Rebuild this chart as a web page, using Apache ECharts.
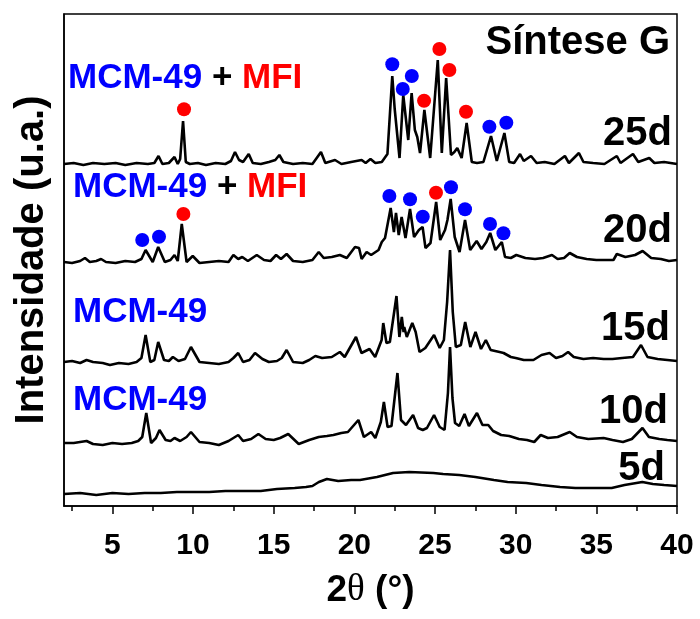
<!DOCTYPE html>
<html>
<head>
<meta charset="utf-8">
<script src="https://cdn.jsdelivr.net/npm/echarts@6/dist/echarts.min.js"></script>
<style>
  html, body { margin: 0; padding: 0; background: #fff; }
  #chart { width: 700px; height: 619px; }
</style>
</head>
<body>
<div id="chart"></div>
<script>
// 2θ ticks
var majorTicks = [5, 10, 15, 20, 25, 30, 35, 40];
var minorTicks = [2.5, 7.5, 12.5, 17.5, 22.5, 27.5, 32.5, 37.5];

// curvas de DRX: [2θ, intensidade relativa], e deslocamento vertical de cada uma
var names = ['25d', '20d', '15d', '10d', '5d'];
var offsets = [342, 244, 144, 63, 12];

var d25 = [[2.0,0],[2.6,1],[3.2,-1],[3.8,1],[4.5,0],[5.2,1],[5.8,-1],[6.5,1],[7.2,0],[7.6,1],[7.86,8],[8.1,0],[8.5,1],[8.85,7],[9.05,0],[9.2,5],[9.38,43],[9.55,2],[9.8,0],[10.3,1],[10.8,-1],[11.4,1],[12.0,0],[12.35,3],[12.6,12],[12.85,4],[13.1,2],[13.45,10],[13.7,1],[14.2,0],[14.7,2],[15.1,4],[15.35,9],[15.6,2],[16.2,0],[16.8,1],[17.4,0],[17.93,12],[18.2,1],[18.8,4],[19.2,0],[19.8,2],[20.45,4],[20.7,1],[21.0,5],[21.3,1],[21.7,2],[22.05,10],[22.35,88],[22.5,55],[22.6,55],[22.8,6],[23.03,69],[23.34,24],[23.55,71],[23.75,34],[23.9,27],[24.07,11],[24.34,54],[24.7,6],[25.17,104],[25.42,11],[25.69,86],[25.99,9],[26.2,12],[26.38,16],[26.65,6],[26.96,41],[27.28,2],[27.6,1],[28.0,2],[28.47,28],[28.83,3],[29.3,31],[29.6,2],[29.9,1],[30.27,10],[30.5,3],[30.95,8],[31.3,1],[31.8,2],[32.4,0],[33.05,8],[33.3,1],[33.92,11],[34.2,2],[34.8,1],[35.5,0],[36.27,8],[36.5,1],[37.27,10],[37.6,2],[38.28,6],[38.6,1],[39.2,2],[40,0]];

var d20 = [[2.0,0],[2.5,-1],[3.0,1],[3.3,4],[3.6,0],[4.0,1],[4.3,3],[4.6,0],[5.2,-1],[5.8,1],[6.4,0],[6.8,3],[7.06,12],[7.5,0],[7.84,15],[8.25,0],[8.6,2],[8.85,7],[9.05,1],[9.3,38],[9.6,0],[9.98,6],[10.4,-1],[11.0,0],[11.6,1],[12.2,0],[12.5,7],[12.8,3],[13.05,5],[13.4,1],[13.95,7],[14.4,2],[14.8,1],[15.15,7],[15.45,3],[15.8,8],[16.2,1],[16.8,0],[17.4,2],[17.79,10],[18.1,4],[18.6,5],[19.1,7],[19.53,4],[20.04,15],[20.29,14],[20.45,3],[20.76,10],[21.04,7],[21.5,12],[21.7,20],[21.9,24],[22.25,54],[22.45,30],[22.58,49],[22.75,27],[22.93,45],[23.17,24],[23.45,53],[23.7,25],[24.0,32],[24.23,35],[24.41,14],[24.72,19],[25.07,60],[25.32,22],[25.62,32],[25.77,42],[25.97,63],[26.22,25],[26.52,10],[26.86,42],[27.18,12],[27.58,21],[27.88,13],[28.18,20],[28.42,29],[28.74,12],[29.14,20],[29.34,5],[29.7,4],[30.04,7],[30.6,4],[31.2,3],[31.7,4],[32.25,7],[32.6,3],[33.0,4],[33.35,9],[33.8,5],[34.4,3],[35.0,2],[35.5,2],[36.06,2],[36.27,8],[36.8,5],[37.4,7],[37.87,11],[38.4,4],[39.0,3],[39.5,1],[40,2]];

var d15 = [[2.0,0],[2.5,1],[3.0,-1],[3.4,2],[3.8,0],[4.4,-1],[4.85,-3],[5.4,-1],[6.0,-2],[6.5,0],[6.8,4],[7.06,27],[7.35,0],[7.6,2],[7.84,20],[8.2,2],[8.5,1],[8.75,5],[9.1,1],[9.5,3],[9.87,15],[10.4,0],[11.0,-1],[11.6,-2],[12.2,0],[12.5,4],[12.8,9],[13.1,0],[13.5,2],[13.84,9],[14.3,3],[14.7,0],[15.2,1],[15.5,4],[15.8,12],[16.2,0],[16.8,-1],[17.2,2],[17.58,6],[18.0,4],[18.6,5],[19.1,10],[19.4,5],[20.1,25],[20.44,9],[20.94,13],[21.29,5],[21.69,22],[21.79,39],[21.99,19],[22.2,20],[22.61,66],[22.79,25],[22.94,45],[23.05,30],[23.09,35],[23.25,25],[23.59,39],[23.8,30],[24.04,10],[24.4,14],[24.94,27],[25.29,14],[25.55,22],[25.75,60],[25.93,112],[26.1,50],[26.29,15],[26.6,17],[26.87,40],[27.19,15],[27.51,30],[27.85,13],[28.15,22],[28.45,12],[29.0,10],[29.25,9],[29.7,5],[30.0,4],[30.5,2],[31.1,2],[31.6,7],[32.1,9],[32.5,4],[32.9,6],[33.25,10],[33.6,5],[34.2,3],[34.8,4],[35.45,3],[36.0,3],[36.6,4],[37.27,5],[37.77,17],[38.17,5],[38.8,3],[39.4,2],[40,1]];

var d10 = [[2.0,0],[2.6,0],[3.0,1],[3.4,2],[3.8,-1],[4.4,-2],[5.0,0],[5.6,-1],[6.2,0],[6.6,2],[6.85,6],[7.1,30],[7.4,0],[7.7,5],[7.92,13],[8.3,3],[8.6,2],[8.85,5],[9.2,2],[9.6,6],[9.87,11],[10.4,1],[11.0,0],[11.6,-2],[12.2,2],[12.5,5],[12.8,8],[13.1,2],[13.6,4],[14.05,9],[14.5,4],[15.0,3],[15.4,5],[15.9,9],[16.55,-1],[17.2,3],[17.79,6],[18.3,7],[18.7,8],[19.19,10],[19.6,11],[20.25,23],[20.59,6],[21.04,11],[21.3,5],[21.64,21],[21.83,41],[22.06,16],[22.3,17],[22.67,70],[22.89,23],[23.2,18],[23.64,28],[23.95,15],[24.24,13],[24.5,15],[24.94,28],[25.29,16],[25.59,13],[25.8,50],[25.93,96],[26.08,45],[26.24,20],[26.5,17],[26.83,29],[27.1,17],[27.6,30],[27.94,18],[28.3,18],[28.6,12],[29.1,8],[29.6,7],[30.2,4],[30.7,3],[31.15,1],[31.55,8],[32.0,5],[32.6,6],[33.35,11],[33.8,6],[34.5,4],[35.45,5],[36.0,3],[36.65,1],[37.2,4],[37.86,15],[38.26,6],[38.9,4],[39.4,3],[40,2]];

var d5 = [[2.0,0],[3.0,1],[4.0,-1],[5.0,1],[6.0,0],[7.0,1],[8.0,1],[9.0,2],[10.0,2],[11.0,2],[12.0,3],[13.0,3],[14.2,3],[15.2,5],[16.3,6],[17.0,7],[17.4,8],[17.8,12],[18.3,15],[19.0,13],[19.8,14],[20.35,14],[21.4,17],[22.4,21],[23.4,22],[24.9,21],[25.5,20],[26.5,19],[27.5,17],[28.65,14],[29.5,12],[30.65,11],[31.6,9],[32.75,7],[33.7,6],[34.75,6],[35.95,6],[36.75,9],[37.85,12],[38.5,10],[39.2,9],[40,8]];

var curves = [d25, d20, d15, d10, d5];

// marcadores de fase (MCM-49 azul, MFI vermelho)
var mcmDots = [[22.35,441.7],[23.0,417],[23.56,430],[28.37,379.3],[29.42,383.3],
  [6.85,266],[7.89,269.3],[22.17,310],[23.45,306.7],[24.24,289.3],[25.99,318.7],[26.86,296.7],[28.41,282],[29.24,272.7]];
var mfiDots = [[9.44,396.7],[25.27,457],[24.32,405.3],[25.89,436],[26.92,394.3],
  [9.4,292],[25.06,313.3]];

var FONT = 'Liberation Sans, Arial, sans-serif';

var chart = echarts.init(document.getElementById('chart'));

var series = curves.map(function (c, i) {
  return {
    name: names[i],
    type: 'line',
    showSymbol: false,
    symbol: 'none',
    lineStyle: { color: '#000', width: 2.6 },
    data: c.map(function (p) { return [p[0], p[1] + offsets[i]]; }),
    z: 2
  };
});
series.push({
  type: 'scatter', data: mcmDots, symbolSize: 14,
  itemStyle: { color: '#0000ff', opacity: 1 }, z: 5
});
series.push({
  type: 'scatter', data: mfiDots, symbolSize: 14,
  itemStyle: { color: '#ff0000', opacity: 1 }, z: 5
});

function label(x, y, text, size, align) {
  return {
    type: 'text', x: x, y: y, z: 10,
    style: {
      text: text, fill: '#000', align: align || 'left', verticalAlign: 'bottom',
      fontSize: size, fontWeight: 'bold', fontFamily: FONT
    }
  };
}
function phaseLabel(x, y, text) {
  return {
    type: 'text', x: x, y: y, z: 10,
    style: {
      text: text, verticalAlign: 'bottom',
      fontSize: 35, fontWeight: 'bold', fontFamily: FONT,
      rich: {
        b: { fill: '#0000ff', fontSize: 35, fontWeight: 'bold', fontFamily: FONT },
        k: { fill: '#000000', fontSize: 35, fontWeight: 'bold', fontFamily: FONT },
        r: { fill: '#ff0000', fontSize: 35, fontWeight: 'bold', fontFamily: FONT }
      }
    }
  };
}

var option = {
  animation: false,
  grid: { left: 64, right: 23, top: 14, bottom: 113, show: true, borderColor: '#000', borderWidth: 1.5 },
  xAxis: [{
    type: 'value', min: 2, max: 40,
    name: '{a|2}{t|θ}{a| (°)}', nameLocation: 'middle', nameGap: 66,
    nameTextStyle: {
      rich: {
        a: { fontSize: 37, fontWeight: 'bold', fontFamily: FONT, color: '#000' },
        t: { fontSize: 37, fontWeight: 'normal', fontFamily: 'Liberation Serif, serif', color: '#000' }
      }
    },
    axisLine: { show: true, lineStyle: { color: '#000', width: 1.5 } },
    axisTick: { show: true, length: 8, lineStyle: { color: '#000', width: 1.5 }, customValues: majorTicks },
    axisLabel: { customValues: majorTicks, fontSize: 30, fontWeight: 'bold', fontFamily: FONT, color: '#000', margin: 25 },
    splitLine: { show: false }
  }, {
    type: 'value', min: 2, max: 40, position: 'bottom',
    axisLine: { show: false },
    axisTick: { show: true, length: 5, lineStyle: { color: '#000', width: 1.5 }, customValues: minorTicks },
    axisLabel: { show: false },
    splitLine: { show: false }
  }],
  yAxis: {
    type: 'value', min: 0, max: 492,
    name: 'Intensidade (u.a.)', nameLocation: 'middle', nameGap: 12, nameRotate: 90,
    nameTextStyle: { fontSize: 40, fontWeight: 'bold', fontFamily: FONT, color: '#000' },
    axisLine: { show: true, lineStyle: { color: '#000', width: 1.5 } },
    axisTick: { show: false },
    axisLabel: { show: false },
    splitLine: { show: false }
  },
  graphic: [
    label(670, 63, 'Síntese G', 40, 'right'),
    phaseLabel(68, 96, '{b|MCM-49} {k|+} {r|MFI}'),
    label(672, 154, '25d', 40, 'right'),
    phaseLabel(73, 205, '{b|MCM-49} {k|+} {r|MFI}'),
    label(672, 251, '20d', 40, 'right'),
    phaseLabel(73, 330, '{b|MCM-49}'),
    label(670, 349, '15d', 40, 'right'),
    phaseLabel(73, 418, '{b|MCM-49}'),
    label(668, 432, '10d', 40, 'right'),
    label(665, 489, '5d', 40, 'right')
  ],
  series: series
};

chart.setOption(option);
</script>
</body>
</html>
